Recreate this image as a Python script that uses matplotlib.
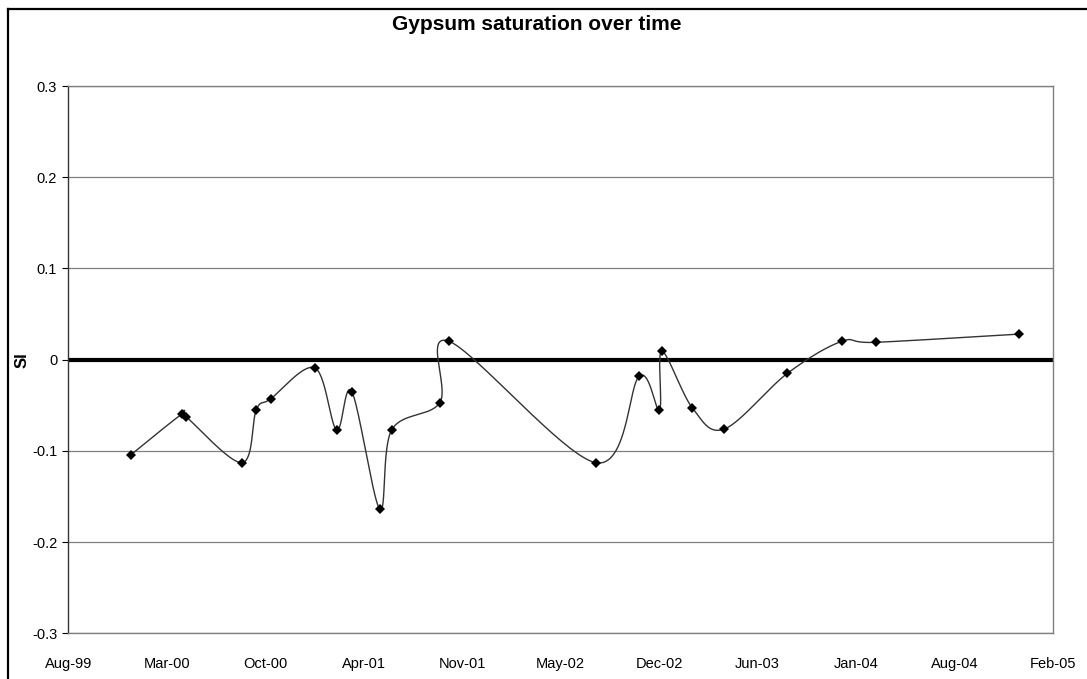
import numpy as np
import matplotlib
matplotlib.use("Agg")
import matplotlib.pyplot as plt
import matplotlib.dates as mdates
from matplotlib.lines import Line2D
import datetime as dt

plt.rcParams['font.family'] = ['Liberation Sans', 'DejaVu Sans']

# ---- data ----
sample_dates = ["2000-01-03", "2000-04-14", "2000-04-24", "2000-08-15", "2000-09-13",
                "2000-10-12", "2001-01-10", "2001-02-23", "2001-03-26", "2001-05-22",
                "2001-06-15", "2001-09-21", "2001-10-10", "2002-08-04", "2002-10-31",
                "2002-12-11", "2002-12-16", "2003-02-16", "2003-04-22", "2003-08-28",
                "2003-12-16", "2004-02-24", "2004-12-11"]
si_values = [-0.104, -0.060, -0.063, -0.113, -0.055,
             -0.043, -0.009, -0.077, -0.035, -0.164,
             -0.077, -0.047, 0.020, -0.113, -0.018,
             -0.055, 0.009, -0.053, -0.076, -0.015,
             0.020, 0.019, 0.028]
x_min_date = "1999-08-28"
x_max_date = "2005-02-17"
x_tick_step_days = 200
y_ticks = [-0.3, -0.2, -0.1, 0.0, 0.1, 0.2, 0.3]
title = "Gypsum saturation over time"
y_label = "SI"

# ---- figure ----
W, H = 1087, 679
fig = plt.figure(figsize=(W / 100, H / 100), dpi=100)
left, right, top, bottom = 68.3, 1052.7, 86.0, 633.3
ax = fig.add_axes([left / W, 1 - bottom / H, (right - left) / W, (bottom - top) / H])

x = mdates.date2num([dt.datetime.strptime(d, "%Y-%m-%d") for d in sample_dates])
y = np.array(si_values)
xmin = mdates.date2num(dt.datetime.strptime(x_min_date, "%Y-%m-%d"))
xmax = mdates.date2num(dt.datetime.strptime(x_max_date, "%Y-%m-%d"))

# Smoothed curve (Catmull-Rom Bezier like Excel's smoothed line), computed in normalized space
xn = (x - xmin) / (xmax - xmin) * (right - left)
yn = (y - (-0.3)) / 0.6 * (bottom - top)
P = np.column_stack([xn, yn])
n = len(P)
curve = []
t = np.linspace(0, 1, 40)
for i in range(n - 1):
    p0 = P[i - 1] if i > 0 else P[i]
    p1 = P[i]
    p2 = P[i + 1]
    p3 = P[i + 2] if i + 2 < n else P[i + 1]
    c1 = p1 + (p2 - p0) / 6.0
    c2 = p2 - (p3 - p1) / 6.0
    b = ((1 - t) ** 3)[:, None] * p1 + (3 * (1 - t) ** 2 * t)[:, None] * c1 \
        + (3 * (1 - t) * t ** 2)[:, None] * c2 + (t ** 3)[:, None] * p2
    curve.append(b)
curve = np.vstack(curve)
cx = curve[:, 0] / (right - left) * (xmax - xmin) + xmin
cy = curve[:, 1] / (bottom - top) * 0.6 - 0.3

ax.set_xlim(xmin, xmax)
ax.set_ylim(-0.3, 0.3)

for v in y_ticks:
    ax.axhline(v, color="#808080", lw=0.9, zorder=1)
ax.axhline(0, color="black", lw=3.0, zorder=2)

ax.plot(cx, cy, color="#333333", lw=1.0, zorder=3, solid_capstyle="round")
ax.plot(x, y, linestyle="none", marker="D", ms=5.0, color="black", mec="black", mew=0, zorder=4)

ticks = np.arange(xmin, xmax + 1, x_tick_step_days)
ax.set_xticks(ticks)
ax.xaxis.set_major_formatter(mdates.DateFormatter("%b-%y"))
ax.set_yticks(y_ticks)
ax.set_yticklabels([("%g" % v) if v != 0 else "0" for v in y_ticks])
ax.tick_params(axis="x", length=0, pad=17, labelsize=10.5)
ax.tick_params(axis="y", length=4, width=0.8, color="black", pad=4, labelsize=10.5, direction="out")

for s in ["top", "right", "bottom"]:
    ax.spines[s].set_color("#808080")
    ax.spines[s].set_linewidth(1.0)
ax.spines["left"].set_color("#333333")
ax.spines["left"].set_linewidth(1.0)

ax.set_ylabel(y_label, fontsize=12, fontweight="bold")
ax.yaxis.set_label_coords(-(left - 22) / (right - left), 0.5)
ax.yaxis.label.set_va("center")
fig.text(537 / W, 1 - 24 / H, title, ha="center", va="center", fontsize=15, fontweight="bold")

# outer chart border (cropped at right and bottom)
fig.add_artist(Line2D([8 / W, 8 / W], [0, 1 - 9 / H], color="black", lw=1.6, transform=fig.transFigure))
fig.add_artist(Line2D([8 / W, 1], [1 - 9 / H, 1 - 9 / H], color="black", lw=1.6, transform=fig.transFigure))

fig.savefig("out.png", dpi=100)
